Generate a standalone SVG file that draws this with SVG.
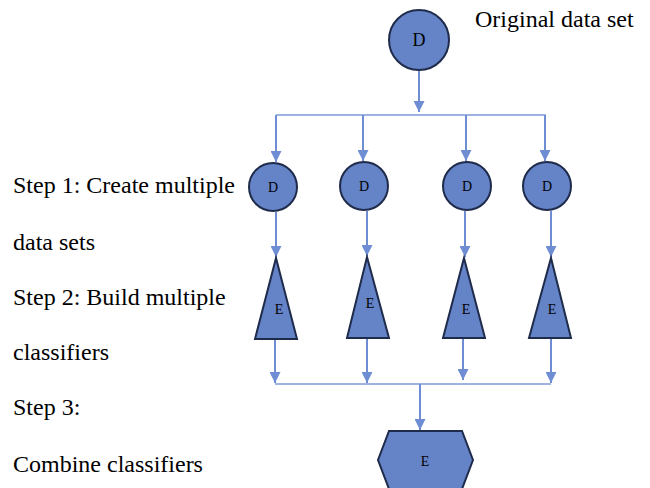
<svg xmlns="http://www.w3.org/2000/svg" width="650" height="488" viewBox="0 0 650 488">
  <style>
    .shape { fill: #6583c7; stroke: #1f2b4a; stroke-width: 2; }
    .wire { fill: none; stroke: #6f8dd2; stroke-width: 2; }
    .bus { fill: none; stroke: #9fb3e2; stroke-width: 2; }
    text { font-family: 'Liberation Serif', 'DejaVu Serif', serif; fill: #000; }
    .label { font-size: 24px; }
    .glyph { text-anchor: middle; }
  </style>
  <defs>
    <marker id="arrow" viewBox="0 0 10 10" refX="10" refY="5" markerWidth="11" markerHeight="11" markerUnits="userSpaceOnUse" orient="auto">
      <path d="M0,0 L10,5 L0,10 z" fill="#6f8dd2"/>
    </marker>
  </defs>
  <rect width="650" height="488" fill="#ffffff"/>

  <!-- step captions -->
  <g id="captions">
    <text class="label" x="475" y="27">Original data set</text>
    <text class="label" x="13" y="193">Step 1: Create multiple</text>
    <text class="label" x="13" y="250">data sets</text>
    <text class="label" x="13" y="305">Step 2: Build multiple</text>
    <text class="label" x="13" y="360">classifiers</text>
    <text class="label" x="13" y="415">Step 3:</text>
    <text class="label" x="13" y="472">Combine classifiers</text>
  </g>

  <!-- connectors -->
  <g id="connectors">
    <line class="wire" x1="419" y1="71" x2="419" y2="112" marker-end="url(#arrow)"/>
    <line class="bus" x1="276" y1="115" x2="546" y2="115"/>
    <line class="wire" x1="276" y1="115" x2="276" y2="162" marker-end="url(#arrow)"/>
    <line class="wire" x1="363" y1="115" x2="363" y2="161" marker-end="url(#arrow)"/>
    <line class="wire" x1="466" y1="115" x2="466" y2="161" marker-end="url(#arrow)"/>
    <line class="wire" x1="545" y1="115" x2="545" y2="161" marker-end="url(#arrow)"/>

    <line class="wire" x1="276" y1="212" x2="276" y2="257" marker-end="url(#arrow)"/>
    <line class="wire" x1="367" y1="211" x2="367" y2="256" marker-end="url(#arrow)"/>
    <line class="wire" x1="465" y1="211" x2="465" y2="257" marker-end="url(#arrow)"/>
    <line class="wire" x1="551" y1="211" x2="551" y2="257" marker-end="url(#arrow)"/>

    <line class="wire" x1="275" y1="339" x2="275" y2="383" marker-end="url(#arrow)"/>
    <line class="wire" x1="367" y1="339" x2="367" y2="383" marker-end="url(#arrow)"/>
    <line class="wire" x1="463" y1="339" x2="463" y2="380" marker-end="url(#arrow)"/>
    <line class="wire" x1="551" y1="339" x2="551" y2="383" marker-end="url(#arrow)"/>
    <line class="bus" x1="275" y1="384" x2="551" y2="384"/>
    <line class="wire" x1="420" y1="384" x2="420" y2="430" marker-end="url(#arrow)"/>
  </g>

  <!-- original data set -->
  <g id="data-original">
    <circle class="shape" cx="419" cy="40" r="30"/>
    <text class="glyph" x="419" y="46" font-size="18">D</text>
  </g>

  <!-- bootstrap data sets -->
  <g id="data-1">
    <circle class="shape" cx="273" cy="187" r="24"/>
    <text class="glyph" x="273" y="192" font-size="14">D</text>
  </g>
  <g id="data-2">
    <circle class="shape" cx="364" cy="186" r="24"/>
    <text class="glyph" x="364" y="191" font-size="14">D</text>
  </g>
  <g id="data-3">
    <circle class="shape" cx="467" cy="186" r="24"/>
    <text class="glyph" x="467" y="191" font-size="14">D</text>
  </g>
  <g id="data-4">
    <circle class="shape" cx="547" cy="186" r="24"/>
    <text class="glyph" x="547" y="191" font-size="14">D</text>
  </g>

  <!-- base classifiers -->
  <g id="classifier-1">
    <polygon class="shape" points="276,258 297,339 255,339"/>
    <text class="glyph" x="279" y="314" font-size="14">E</text>
  </g>
  <g id="classifier-2">
    <polygon class="shape" points="367,257 389,338 347,338"/>
    <text class="glyph" x="370" y="308" font-size="14">E</text>
  </g>
  <g id="classifier-3">
    <polygon class="shape" points="464,258 485,338 443,338"/>
    <text class="glyph" x="466" y="314" font-size="14">E</text>
  </g>
  <g id="classifier-4">
    <polygon class="shape" points="551,258 571,338 529,338"/>
    <text class="glyph" x="552" y="314" font-size="14">E</text>
  </g>

  <!-- combined classifier -->
  <g id="ensemble">
    <polygon class="shape" points="389,431 462,431 473,460 462,489 389,489 378,460"/>
    <text class="glyph" x="425" y="466" font-size="14">E</text>
  </g>
</svg>
